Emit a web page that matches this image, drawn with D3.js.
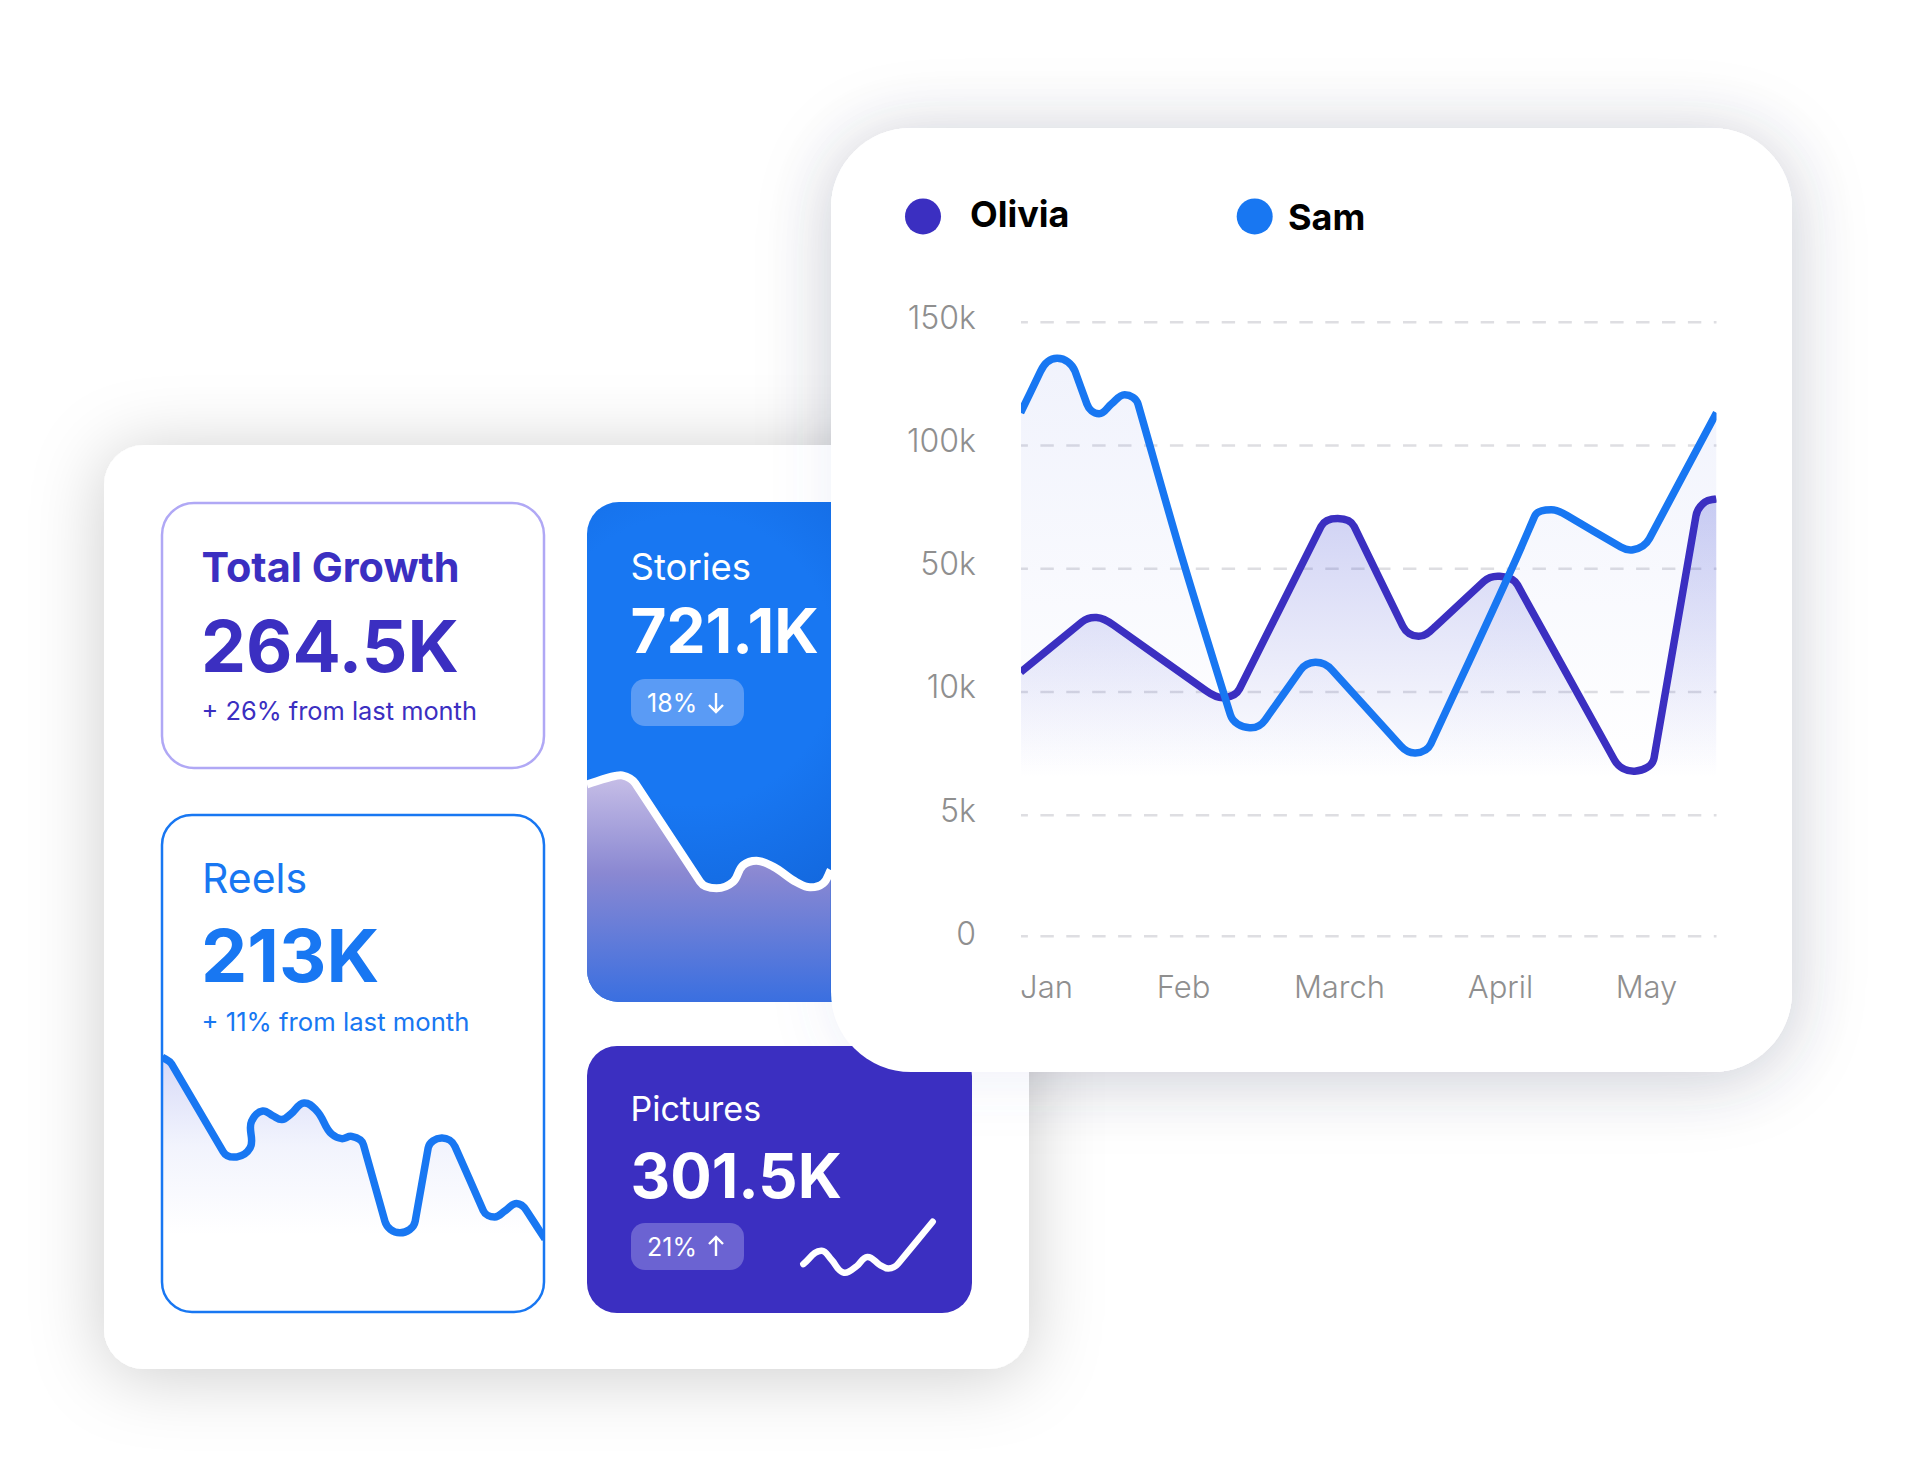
<!DOCTYPE html>
<html>
<head>
<meta charset="utf-8">
<script src="https://cdn.jsdelivr.net/npm/d3@7"></script>
<style>
  html, body { margin: 0; padding: 0; background: #fff; }
  svg { display: block; font-family: Inter, "Noto Sans", sans-serif; }
</style>
</head>
<body>
<div id="chart"></div>
<script>
const width = 1920;
const height = 1473;

const PURPLE = "#3b2fc1";
const BLUE = "#1877f2";
const GREY = "#8f8f8f";

// main chart data, x in months (0 = Jan), y in thousands
const months = ["Jan", "Feb", "March", "April", "May"];
const monthIndex = [0, 1, 2, 3, 4];
const yTicks = [0, 5, 10, 50, 100, 150];
const yTickLabels = ["0", "5k", "10k", "50k", "100k", "150k"];

const samMonth = [-0.185, -0.04, 0.08, 0.212, 0.299, 0.387, 0.477, 0.574, 0.672, 0.998, 1.304, 1.427, 1.526, 1.754, 1.848, 1.955, 2.384, 2.475, 2.57, 3.107, 3.238, 3.352, 3.456, 3.827, 3.911, 4.024, 4.483];
const samValue = [113.1, 129.9, 135.2, 129.9, 116.6, 112.7, 116.6, 120.4, 116.6, 53.4, 9.05, 8.53, 8.84, 17, 19.5, 17, 7.79, 7.51, 7.87, 53.4, 71.2, 73.7, 71.5, 58.6, 57.5, 62.1, 113.1];

const oliviaMonth = [-0.185, 0.263, 0.369, 0.495, 1.149, 1.26, 1.362, 1.885, 1.992, 2.094, 2.396, 2.494, 2.602, 2.899, 2.998, 3.12, 3.783, 3.923, 4.055, 4.342, 4.404, 4.483];
const oliviaValue = [16.3, 32.6, 34, 31.5, 10.2, 9.75, 10.8, 67, 70.2, 67, 31.2, 27.9, 31.3, 45.7, 47.4, 44.6, 7.23, 6.77, 7.3, 71.2, 76.9, 78.2];

// sparklines, both axes 0-100 (no axis in the picture)
const reelsT = [0, 2.5, 16, 19.5, 23, 23.4, 26.3, 29, 31.3, 33.6, 37.1, 40.4, 44.3, 46.9, 49.5, 52.6, 58.2, 62.1, 66.1, 69.5, 73, 76.5, 83.9, 86.9, 89.6, 92.6, 95.2, 100];
const reelsV = [100, 96.2, 48.2, 45.4, 50.3, 65, 70.5, 67.8, 65.8, 68.8, 74.9, 70.6, 57.9, 55.4, 56.6, 52.1, 10.2, 3.9, 10.2, 50.3, 55.7, 51.1, 16, 12.6, 16, 19.9, 16, 0.5];

const storiesT = [0, 11.6, 14.4, 19.8, 46.4, 53.2, 60, 64.1, 69.6, 76.4, 86, 91.5, 96.9, 100];
const storiesV = [91.9, 99.1, 99.7, 92.8, 7.2, 1.5, 7.2, 21.7, 25.5, 20.3, 6.7, 2.3, 5.8, 17.4];

const picturesT = [0, 14.2, 21.9, 31.5, 41.3, 49.5, 59.3, 65.7, 73.4, 100];
const picturesV = [17, 43, 25, 0, 13, 31, 15, 8, 18, 100];

const svg = d3.select("#chart")
    .append("svg")
    .attr("width", width)
    .attr("height", height);

const defs = svg.append("defs");

// Line shape of the picture: long runs are straight, only the turns are round.
// Same interface as the d3 curves so it works with d3.line and d3.area.
const LONG_RUN = 30;
class StraightRuns {
    constructor(context) { this._context = context; }
    areaStart() { this._line = 0; }
    areaEnd() { this._line = NaN; }
    lineStart() { this._pts = []; }
    point(x, y) { this._pts.push([+x, +y]); }
    lineEnd() {
        const p = this._pts, c = this._context, n = p.length;
        const seg = i => {
            const dx = p[i + 1][0] - p[i][0], dy = p[i + 1][1] - p[i][1];
            const len = Math.hypot(dx, dy) || 1;
            return { ux: dx / len, uy: dy / len, len };
        };
        const tangent = i => {
            if (i === 0) { const s = seg(0); return [s.ux, s.uy]; }
            if (i === n - 1) { const s = seg(n - 2); return [s.ux, s.uy]; }
            const a = seg(i - 1), b = seg(i);
            if (a.len > LONG_RUN && b.len <= LONG_RUN) return [a.ux, a.uy];
            if (b.len > LONG_RUN && a.len <= LONG_RUN) return [b.ux, b.uy];
            const tx = a.ux + b.ux, ty = a.uy + b.uy, l = Math.hypot(tx, ty) || 1;
            return [tx / l, ty / l];
        };
        if (this._line) c.lineTo(p[0][0], p[0][1]);
        else c.moveTo(p[0][0], p[0][1]);
        for (let i = 0; i < n - 1; i++) {
            const s = seg(i), k = s.len * (s.len > LONG_RUN ? 0.33 : 0.36);
            const t0 = tangent(i), t1 = tangent(i + 1);
            c.bezierCurveTo(
                p[i][0] + t0[0] * k, p[i][1] + t0[1] * k,
                p[i + 1][0] - t1[0] * k, p[i + 1][1] - t1[1] * k,
                p[i + 1][0], p[i + 1][1]);
        }
        if (this._line) c.closePath();
        this._line = 1 - this._line;
    }
}
const curve = context => new StraightRuns(context);

// 1. Filters and gradients
function shadow(id, color, opacity, blur, dy) {
    defs.append("filter")
        .attr("id", id)
        .attr("filterUnits", "userSpaceOnUse")
        .attr("x", -200).attr("y", -200)
        .attr("width", width + 400).attr("height", height + 400)
        .append("feDropShadow")
        .attr("dx", 0).attr("dy", dy)
        .attr("stdDeviation", blur)
        .attr("flood-color", color)
        .attr("flood-opacity", opacity);
}
shadow("panelShadow", "#000", 0.2, 36, 6);
shadow("cardShadow", "#000", 0.16, 38, 6);
shadow("cardGlow", "#5a68c8", 0.1, 30, 6);

function vGradient(id, y1, y2, stops) {
    const g = defs.append("linearGradient")
        .attr("id", id)
        .attr("gradientUnits", "userSpaceOnUse")
        .attr("x1", 0).attr("x2", 0)
        .attr("y1", y1).attr("y2", y2);
    stops.forEach(s => g.append("stop")
        .attr("offset", s[0])
        .attr("stop-color", s[1])
        .attr("stop-opacity", s[2]));
}
vGradient("samFill", 350, 775, [[0, "#4660dc", 0.08], [1, "#4660dc", 0]]);
vGradient("oliviaFill", 500, 778, [[0, "#3c46d2", 0.25], [1, "#3c46d2", 0]]);
vGradient("reelsFill", 1057, 1235, [[0, "#5a60dc", 0.24], [0.5, "#5a70e6", 0.08], [1, "#5a70e6", 0]]);
vGradient("storiesFill", 780, 1002, [[0, "#c4bce6", 1], [0.42, "#8a88d2", 1], [1, "#3a6fe0", 1]]);

const storiesBg = defs.append("radialGradient")
    .attr("id", "storiesBg")
    .attr("gradientUnits", "userSpaceOnUse")
    .attr("cx", 690).attr("cy", 660).attr("r", 290);
storiesBg.append("stop").attr("offset", 0.5).attr("stop-color", BLUE);
storiesBg.append("stop").attr("offset", 1).attr("stop-color", "#1265da");

function clipRect(id, x, y, w, h, r) {
    defs.append("clipPath").attr("id", id)
        .append("rect")
        .attr("x", x).attr("y", y)
        .attr("width", w).attr("height", h)
        .attr("rx", r);
}
clipRect("reelsClip", 162, 815, 382, 496, 30);
clipRect("storiesClip", 587, 502, 385, 500, 32);
clipRect("plotClip", 1021, 0, 695.5, height, 0);

// 2. Back layers: shadows and the left panel
function card(x, y, w, h, r) {
    return svg.append("rect")
        .attr("x", x).attr("y", y)
        .attr("width", w).attr("height", h)
        .attr("rx", r);
}
card(831, 128, 961, 944, 80).attr("fill", "#fff").attr("filter", "url(#cardShadow)");
card(104, 445, 925, 924, 40).attr("fill", "#fff").attr("filter", "url(#panelShadow)");
card(831, 128, 961, 944, 80).attr("fill", "#fff").attr("filter", "url(#cardGlow)");
card(104, 1000, 480, 369, 40).attr("fill", "#fff");

function label(x, y, str, size, weight, color) {
    return svg.append("text")
        .attr("x", x).attr("y", y)
        .attr("font-size", size)
        .attr("font-weight", weight)
        .attr("fill", color)
        .text(str);
}

// 3. Small cards
card(162, 503, 382, 265, 32).attr("fill", "#fff").attr("stroke", "#b0a8f5").attr("stroke-width", 2.5);
label(201.5, 582, "Total Growth", 41.4, 700, PURPLE);
label(201, 672, "264.5K", 71.5, 700, PURPLE);
label(201.5, 720, "+ 26% from last month", 25.4, 400, PURPLE);

card(162, 815, 382, 497, 30).attr("fill", "#fff");

function spark(tVals, vVals, xRange, yRange) {
    const x = d3.scaleLinear().domain([0, 100]).range(xRange);
    const y = d3.scaleLinear().domain([0, 100]).range(yRange);
    return tVals.map((t, i) => [x(t), y(vVals[i])]);
}

// reels sparkline
const reels = spark(reelsT, reelsV, [162, 545], [1240, 1057]);
const reelsG = svg.append("g").attr("clip-path", "url(#reelsClip)");
reelsG.append("path")
    .attr("d", d3.area().curve(curve).y0(1240)(reels))
    .attr("fill", "url(#reelsFill)");
reelsG.append("path")
    .attr("d", d3.line().curve(curve)(reels))
    .attr("fill", "none")
    .attr("stroke", BLUE)
    .attr("stroke-width", 7.5);
card(162, 815, 382, 497, 30).attr("fill", "none").attr("stroke", BLUE).attr("stroke-width", 2.5);

label(202, 893, "Reels", 41, 400, BLUE);
label(201, 982, "213K", 73.5, 700, BLUE);
label(201.5, 1031, "+ 11% from last month", 25.7, 400, BLUE);

// stories card
card(587, 502, 385, 500, 32).attr("fill", "url(#storiesBg)");
const stories = spark(storiesT, storiesV, [587, 830.7], [890, 775]);
const storiesG = svg.append("g").attr("clip-path", "url(#storiesClip)");
storiesG.append("path")
    .attr("d", d3.area().curve(curve).y0(1002)(stories))
    .attr("fill", "url(#storiesFill)");
storiesG.append("path")
    .attr("d", d3.line().curve(curve)(stories))
    .attr("fill", "none")
    .attr("stroke", "#fff")
    .attr("stroke-width", 8);

label(630.5, 579.5, "Stories", 36.5, 400, "#fff");
label(630.5, 653, "721.1K", 62, 700, "#fff");

function badge(x, y, str, fill, up) {
    card(x, y, 113, 47, 14).attr("fill", fill);
    label(x + 16, y + 33, str, 25, 400, "#fff");
    // arrow icon
    const cx = x + 85, top = y + 14, bottom = y + 33;
    const d = up
        ? `M${cx},${bottom}V${top}M${cx - 7},${top + 7}L${cx},${top}L${cx + 7},${top + 7}`
        : `M${cx},${top}V${bottom}M${cx - 7},${bottom - 7}L${cx},${bottom}L${cx + 7},${bottom - 7}`;
    svg.append("path").attr("d", d).attr("fill", "none")
        .attr("stroke", "#fff").attr("stroke-width", 2.4);
}
badge(631, 679, "18%", "#5a9bf5", false);

// pictures card
card(587, 1046, 385, 267, 30).attr("fill", PURPLE);
label(630.5, 1121, "Pictures", 34, 400, "#fff");
label(630.5, 1198, "301.5K", 61.5, 700, "#fff");
badge(631, 1223, "21%", "#6b63d2", true);

const pictures = spark(picturesT, picturesV, [803.3, 932.7], [1272.7, 1221.7]);
svg.append("path")
    .attr("d", d3.line().curve(curve)(pictures))
    .attr("fill", "none")
    .attr("stroke", "#fff")
    .attr("stroke-width", 6.5)
    .attr("stroke-linecap", "round");

// 4. Main card on top of everything
card(831, 128, 961, 944, 80).attr("fill", "#fff");

// legend
const legendNames = ["Olivia", "Sam"];
const legendColors = [PURPLE, BLUE];
const legendCx = [923, 1254.7];
const legendTx = [970, 1288];
const legendBase = [227.4, 229.5];
legendNames.forEach((n, i) => {
    svg.append("circle")
        .attr("cx", legendCx[i]).attr("cy", 216.4).attr("r", 18)
        .attr("fill", legendColors[i]);
    label(legendTx[i], legendBase[i], n, 36, 700, "#000");
});

// 5. Scales and axes. The y axis steps are not even, so it is piecewise
const plotLeft = 1021;
const plotRight = 1716.5;

const xScale = d3.scaleLinear()
    .domain(monthIndex)
    .range([1046, 1183, 1339, 1500, 1646]);

const yScale = d3.scaleLinear()
    .domain(yTicks)
    .range([935.7, 814.8, 691.5, 568.3, 445, 321.8]);

const yAxis = d3.axisLeft(yScale)
    .tickValues(yTicks)
    .tickFormat((d, i) => yTickLabels[i])
    .tickSize(-(plotRight - plotLeft))
    .tickPadding(45);

const yG = svg.append("g")
    .attr("transform", `translate(${plotLeft},0)`)
    .call(yAxis);
yG.select(".domain").remove();
yG.selectAll("line")
    .attr("stroke", "#dedee2")
    .attr("stroke-width", 2.4)
    .attr("stroke-dasharray", "13.4 12.5")
    .attr("stroke-dashoffset", 6.5);
yG.selectAll("text")
    .attr("dy", d => d === 0 ? "0.27em" : "0.2em")
    .attr("font-family", "Inter, sans-serif")
    .attr("font-size", 32)
    .attr("font-weight", 300)
    .attr("fill", GREY);

const xAxis = d3.axisBottom(xScale)
    .tickValues(monthIndex)
    .tickFormat((d, i) => months[i])
    .tickSize(0)
    .tickPadding(40.7);

const xG = svg.append("g")
    .attr("transform", "translate(0,935.7)")
    .call(xAxis);
xG.select(".domain").remove();
xG.selectAll("text")
    .attr("font-family", "Inter, sans-serif")
    .attr("font-size", 31)
    .attr("font-weight", 300)
    .attr("fill", GREY);

// 6. Areas and lines
const samData = samMonth.map((m, i) => [m, samValue[i]]);
const oliviaData = oliviaMonth.map((m, i) => [m, oliviaValue[i]]);

const plot = svg.append("g").attr("clip-path", "url(#plotClip)");

const area = d3.area()
    .curve(curve)
    .x(d => xScale(d[0]))
    .y0(778)
    .y1(d => yScale(d[1]));

const line = d3.line()
    .curve(curve)
    .x(d => xScale(d[0]))
    .y(d => yScale(d[1]));

plot.append("path").attr("d", area(samData)).attr("fill", "url(#samFill)");
plot.append("path").attr("d", area(oliviaData)).attr("fill", "url(#oliviaFill)");

plot.append("path")
    .attr("d", line(oliviaData))
    .attr("fill", "none")
    .attr("stroke", PURPLE)
    .attr("stroke-width", 7.5);
plot.append("path")
    .attr("d", line(samData))
    .attr("fill", "none")
    .attr("stroke", BLUE)
    .attr("stroke-width", 7.5);
</script>
</body>
</html>
